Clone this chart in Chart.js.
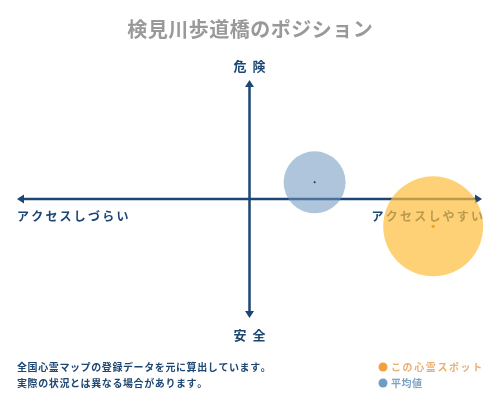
<!DOCTYPE html>
<html lang="ja">
<head>
  <meta charset="UTF-8" />
  <title>検見川歩道橋のポジション</title>
  <script src="https://cdn.jsdelivr.net/npm/chart.js@4.4.0/dist/chart.umd.min.js"></script>
  <style>
    body { margin: 0; background: #fff; }
    canvas { display: block; }
  </style>
</head>
<body>
  <canvas id="posChart" width="500" height="400"></canvas>
  <script>
    // data
    const seriesNames = ["この心霊スポット", "平均値"];
    const spotPoint = [{ x: 0.79, y: -0.23, r: 50 }];
    const avgPoint = [{ x: 0.28, y: 0.14, r: 31 }];
    const axisLabels = { top: "危 険", bottom: "安 全", left: "アクセスしづらい", right: "アクセスしやすい" };
    const titleText = "検見川歩道橋のポジション";
    const noteLines = ["全国心霊マップの登録データを元に算出しています。", "実際の状況とは異なる場合があります。"];

    const navy = "#1d4673";
    const font = "'Noto Sans CJK JP', sans-serif";

    function spaced(ctx, text, x, y, gap, align) {
      // draw text with letter spacing
      let w = 0;
      for (const ch of text) w += ctx.measureText(ch).width + gap;
      w -= gap;
      let cx = align === "center" ? x - w / 2 : (align === "right" ? x - w : x);
      ctx.textAlign = "left";
      for (const ch of text) {
        ctx.fillText(ch, cx, y);
        cx += ctx.measureText(ch).width + gap;
      }
    }

    const decor = {
      id: "decor",
      beforeDatasetsDraw(chart) {
        const ctx = chart.ctx;
        const a = chart.chartArea;
        const xs = chart.scales.x, ys = chart.scales.y;
        const cx = xs.getPixelForValue(0), cy = ys.getPixelForValue(0);
        ctx.save();
        ctx.strokeStyle = navy;
        ctx.fillStyle = navy;
        ctx.lineWidth = 2.5;
        ctx.beginPath();
        ctx.moveTo(a.left + 4, cy); ctx.lineTo(a.right - 4, cy);
        ctx.moveTo(cx, a.top + 4); ctx.lineTo(cx, a.bottom - 4);
        ctx.stroke();
        // arrow heads
        const h = 7, w = 4.5;
        ctx.beginPath();
        ctx.moveTo(a.left, cy); ctx.lineTo(a.left + h, cy - w); ctx.lineTo(a.left + h, cy + w); ctx.closePath();
        ctx.moveTo(a.right, cy); ctx.lineTo(a.right - h, cy - w); ctx.lineTo(a.right - h, cy + w); ctx.closePath();
        ctx.moveTo(cx, a.top); ctx.lineTo(cx - w, a.top + h); ctx.lineTo(cx + w, a.top + h); ctx.closePath();
        ctx.moveTo(cx, a.bottom); ctx.lineTo(cx - w, a.bottom - h); ctx.lineTo(cx + w, a.bottom - h); ctx.closePath();
        ctx.fill();

        // axis labels
        ctx.textBaseline = "middle";
        ctx.font = "bold 13px " + font;
        spaced(ctx, axisLabels.top, cx, 66, 1.5, "center");
        spaced(ctx, axisLabels.bottom, cx, 335, 1.5, "center");
        ctx.font = "bold 12px " + font;
        spaced(ctx, axisLabels.left, a.left, 216, 2.2, "left");
        spaced(ctx, axisLabels.right, a.right + 1, 216, 2.2, "right");
        ctx.restore();
      },
      afterDraw(chart) {
        const ctx = chart.ctx;
        ctx.save();
        ctx.textBaseline = "middle";
        ctx.fillStyle = "#999999";
        ctx.font = "bold 20px " + font;
        spaced(ctx, titleText, 250, 29, 0.5, "center");

        ctx.fillStyle = navy;
        ctx.font = "bold 10px " + font;
        spaced(ctx, noteLines[0], 17, 367, 0.6, "left");
        spaced(ctx, noteLines[1], 17, 383, 0.6, "left");

        // legend
        ctx.beginPath(); ctx.arc(383, 367, 4.5, 0, Math.PI * 2);
        ctx.fillStyle = "#f2a040"; ctx.fill();
        ctx.fillStyle = "#e9b070";
        spaced(ctx, seriesNames[0], 391, 367, 1.6, "left");
        ctx.beginPath(); ctx.arc(383, 383, 4.5, 0, Math.PI * 2);
        ctx.fillStyle = "#6f9cc5"; ctx.fill();
        ctx.fillStyle = "#7ea3c4";
        spaced(ctx, seriesNames[1], 391, 383, 0.5, "left");

        // centre dots
        const xs = chart.scales.x, ys = chart.scales.y;
        ctx.fillStyle = "#f0a020";
        ctx.beginPath(); ctx.arc(xs.getPixelForValue(spotPoint[0].x), ys.getPixelForValue(spotPoint[0].y), 1.6, 0, Math.PI * 2); ctx.fill();
        ctx.fillStyle = "#1d2f45";
        ctx.beginPath(); ctx.arc(xs.getPixelForValue(avgPoint[0].x), ys.getPixelForValue(avgPoint[0].y), 1, 0, Math.PI * 2); ctx.fill();
        ctx.restore();
      }
    };

    new Chart(document.getElementById("posChart"), {
      type: "bubble",
      data: {
        datasets: [
          {
            label: seriesNames[1],
            data: avgPoint,
            backgroundColor: "rgba(110,150,190,0.55)",
            borderWidth: 0,
            clip: false
          },
          {
            label: seriesNames[0],
            data: spotPoint,
            backgroundColor: "rgba(255,190,60,0.7)",
            borderWidth: 0,
            clip: false
          }
        ]
      },
      options: {
        responsive: false,
        animation: false,
        events: [],
        layout: { autoPadding: false, padding: { left: 17, right: 18, top: 80, bottom: 82 } },
        scales: {
          x: { display: false, min: -1, max: 1 },
          y: { display: false, min: -1, max: 1 }
        },
        plugins: { legend: { display: false }, tooltip: { enabled: false }, title: { display: false } }
      },
      plugins: [decor]
    });
  </script>
</body>
</html>
